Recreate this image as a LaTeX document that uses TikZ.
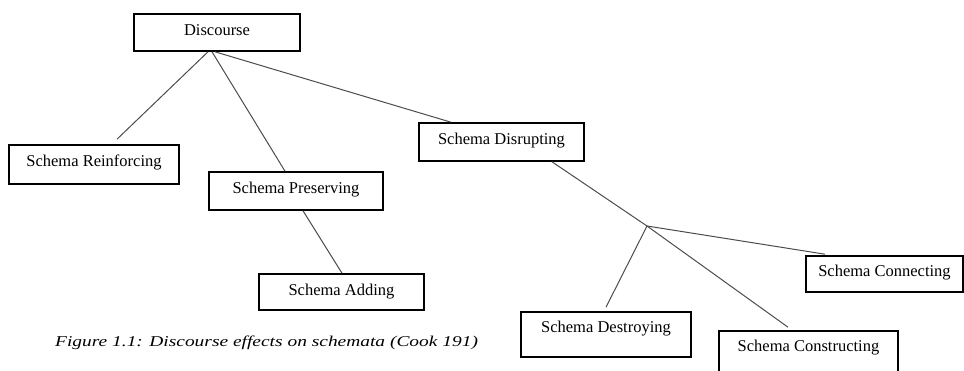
\documentclass[tikz,border=0pt]{standalone}
\usepackage{fontspec}
\setmainfont{Liberation Serif}
\usepackage{graphicx}
\begin{document}
\begin{tikzpicture}[x=1pt,y=-1pt,
  box/.style={draw=black, line width=1.6pt, rectangle, inner sep=0pt, anchor=base,
    font=\fontsize{16.5}{19}\selectfont, text=black},
  link/.style={draw=black!70, line width=1pt}]
\path[use as bounding box] (0,0) rectangle (964,371);
\clip (0,0) rectangle (964,371);
% boxes: anchor=base at (centre x, baseline)
\node[box, minimum width=166pt, text height=22pt, text depth=15pt] (disc) at (217,36) {Discourse};
\node[box, minimum width=170pt, text height=22pt, text depth=17pt] (rein) at (94,167) {Schema Reinforcing};
\node[box, minimum width=174pt, text height=22pt, text depth=16pt] (pres) at (296,194) {Schema Preserving};
\node[box, minimum width=165pt, text height=22pt, text depth=14pt] (add) at (341.5,296) {Schema Adding};
\node[box, minimum width=165pt, text height=22pt, text depth=16pt] (disr) at (501.5,145) {Schema Disrupting};
\node[box, minimum width=170pt, text height=21pt, text depth=24pt] (dest) at (606,333) {Schema Destroying};
\node[box, minimum width=179pt, text height=21pt, text depth=26pt] (cons) at (808.5,352) {Schema Constructing};
\node[box, minimum width=157pt, text height=21pt, text depth=15pt] (conn) at (884.5,277) {Schema Connecting};
\coordinate (j) at (647,226);
% connectors
\draw[link] ([xshift=-9pt]disc.south) -- ([xshift=23pt,yshift=5pt]rein.north);
\draw[link] ([xshift=-5pt]disc.south) -- ([xshift=-11pt]pres.north);
\draw[link] ([xshift=-2pt]disc.south) -- ([xshift=-50.5pt]disr.north);
\draw[link] ([xshift=7pt]pres.south) -- ([xshift=0.5pt]add.north);
\draw[link] ([xshift=50.5pt]disr.south) -- (j);
\draw[link] (j) -- ([yshift=4pt]dest.north);
\draw[link] (j) -- ([xshift=-20.5pt,yshift=3pt]cons.north);
\draw[link] (j) -- ([xshift=-59.5pt,yshift=1pt]conn.north);
% caption
\node[anchor=base west, inner sep=0pt, text=black] (cap) at (55,347)
  {\scalebox{1.295}[1]{\fontsize{15}{18}\selectfont\itshape Figure 1.1: Discourse effects on schemata (Cook 191)}};
\end{tikzpicture}
\end{document}
